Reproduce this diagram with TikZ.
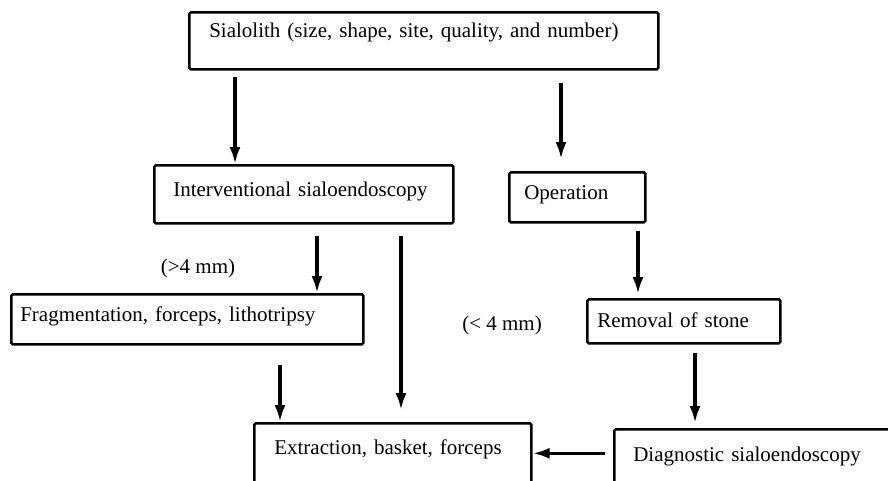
\documentclass[tikz,border=0pt]{standalone}
\usepackage{fontspec}
\setmainfont{Liberation Serif}
\usetikzlibrary{arrows.meta}

\tikzset{
  box/.style={draw, line width=2.6pt, rounded corners=1.5pt, anchor=north west,
    align=left, inner ysep=0pt, font=\fontsize{21}{25}\selectfont},
  arr/.style={line width=3.2pt, -{Latex[length=17pt,width=11pt]}},
  note/.style={font=\fontsize{21}{25}\selectfont}
}

\begin{document}
\begin{tikzpicture}[x=1pt,y=-1pt]
\useasboundingbox (0,0) rectangle (888,480);

\node[box, inner xsep=20pt, text width=429pt, text height=25pt, text depth=32pt] at (188,11) (sialolith) {Sialolith (size, shape, site, quality, and number)};
\node[box, inner xsep=19pt, text width=261pt, text height=31pt, text depth=27pt] at (153,164) (interv) {Interventional sialoendoscopy};
\node[box, inner xsep=15pt, text width=106pt, text height=27pt, text depth=23pt] at (508,171) (oper) {Operation};
\node[box, inner xsep=9pt, text width=334pt, text height=27pt, text depth=23pt] at (10,293) (frag) {Fragmentation, forceps, lithotripsy};
\node[box, inner xsep=10pt, text width=173pt, text height=28pt, text depth=16pt] at (586,298) (remov) {Removal of stone};
\node[box, inner xsep=20pt, text width=237pt, text height=31pt, text depth=37pt] at (253,422) (extr) {Extraction, basket, forceps};
\node[box, inner xsep=19pt, text width=262pt, text height=32pt, text depth=30pt] at (613,428) (diag) {Diagnostic sialoendoscopy};

\node[note] at (198,268) (bigstone) {(>4 mm)};
\node[note] at (502,325) (smallstone) {(< 4 mm)};

\draw[arr] ([xshift=47pt,yshift=-6pt]sialolith.south west) -- ([xshift=82pt]interv.north west);
\draw[arr] ([xshift=373pt,yshift=-12pt]sialolith.south west) -- ([xshift=53pt,yshift=12pt]oper.north west);
\draw[arr] ([xshift=164pt,yshift=-11pt]interv.south west) -- ([xshift=307pt]frag.north west);
\draw[arr] ([xshift=248pt,yshift=-11pt]interv.south west) -- ([xshift=148pt,yshift=12pt]extr.north west);
\draw[arr] ([xshift=130pt,yshift=-7pt]oper.south west) -- ([xshift=52pt,yshift=4pt]remov.north west);
\draw[arr] ([xshift=270pt,yshift=-19pt]frag.south west) -- ([xshift=27pt]extr.north west);
\draw[arr] ([xshift=109pt,yshift=-8pt]remov.south west) -- ([xshift=82pt,yshift=5pt]diag.north west);
\draw[arr] ([xshift=-8pt,yshift=7pt]diag.west) coordinate (diagout) -- (diagout -| extr.east);

\end{tikzpicture}
\end{document}
